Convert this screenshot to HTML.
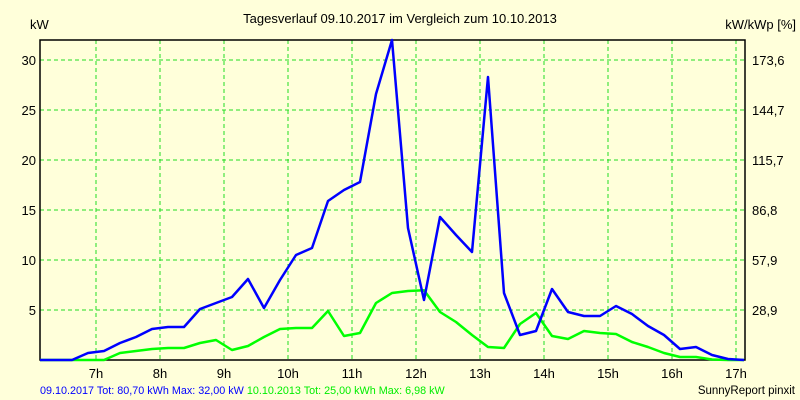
<!DOCTYPE html>
<html><head><meta charset="utf-8"><style>
body{margin:0;background:#FFFFDA;}
svg{display:block;font-family:"Liberation Sans",sans-serif;}
</style></head><body>
<svg id="chart" width="800" height="400">
<rect x="0" y="0" width="800" height="400" fill="#FFFFDA"/>
<text x="400" y="23" font-size="13" text-anchor="middle" fill="#000">Tagesverlauf 09.10.2017 im Vergleich zum 10.10.2013</text>
<text x="30" y="29" font-size="13" fill="#000">kW</text>
<text x="796" y="29" font-size="13" text-anchor="end" fill="#000">kW/kWp [%]</text>
<g id="grid"></g>
<g id="axes"></g>
<g id="series"></g>
<text x="40" y="394" font-size="10.8"><tspan fill="#0000ff">09.10.2017 Tot: 80,70 kWh Max: 32,00 kW</tspan><tspan fill="#00ee00"> 10.10.2013 Tot: 25,00 kWh Max: 6,98 kW</tspan></text>
<text x="795" y="394" font-size="11.5" text-anchor="end" fill="#000">SunnyReport pinxit</text>
</svg>
<script>
const yTicks=[5,10,15,20,25,30];
const yTickLabels=["5","10","15","20","25","30"];
const rightTickLabels=["28,9","57,9","86,8","115,7","144,7","173,6"];
const hours=[7,8,9,10,11,12,13,14,15,16,17];
const hourLabels=["7h","8h","9h","10h","11h","12h","13h","14h","15h","16h","17h"];
const startTime=6.125; const stepHours=0.25;
const blue2017=[0,0,0,0.7,0.9,1.7,2.3,3.1,3.3,3.3,5.1,5.7,6.3,8.1,5.2,8.0,10.5,11.2,15.9,17.0,17.8,26.6,32,13.2,6.0,14.3,12.5,10.8,28.3,6.7,2.5,2.9,7.1,4.8,4.4,4.4,5.4,4.6,3.4,2.5,1.1,1.3,0.5,0.1,0];
const green2013=[0,0,0,0,0,0.7,0.9,1.1,1.2,1.2,1.7,2.0,1.0,1.4,2.3,3.1,3.2,3.2,4.9,2.4,2.7,5.7,6.7,6.9,6.98,4.8,3.8,2.5,1.3,1.2,3.6,4.7,2.4,2.1,2.9,2.7,2.6,1.8,1.3,0.7,0.3,0.3,0.05,0,0];
const X0=40,X1=745,Y0=360,YT=40;
function xs(t){return 96+(t-7)*64;}
function ys(v){return Y0-v*10;}
const NS="http://www.w3.org/2000/svg";
function mk(tag,attrs,parent){const e=document.createElementNS(NS,tag);for(const k in attrs)e.setAttribute(k,attrs[k]);parent.appendChild(e);return e;}
const grid=document.getElementById('grid'),axes=document.getElementById('axes'),series=document.getElementById('series');
yTicks.forEach((v,i)=>{
 const l=mk('line',{x1:X0,x2:X1,y1:ys(v),y2:ys(v),stroke:'#22dd22','stroke-dasharray':'4,3','stroke-width':1},grid);
 
 
 const t=mk('text',{x:36,y:ys(v)+5,'font-size':13,'text-anchor':'end',fill:'#000'},axes);t.textContent=yTickLabels[i];
 
 
 const r=mk('text',{x:752,y:ys(v)+5,'font-size':13,fill:'#000'},axes);r.textContent=rightTickLabels[i];
 
 
});
hours.forEach((h,i)=>{
 const l=mk('line',{x1:xs(h),x2:xs(h),y1:YT,y2:Y0,stroke:'#22dd22','stroke-dasharray':'4,3','stroke-width':1},grid);
 
 
 const t=mk('text',{x:xs(h),y:378,'font-size':13,'text-anchor':'middle',fill:'#000'},axes);t.textContent=hourLabels[i];
 
 
});
const frame=mk('path',{d:`M${X0},${YT}H${X1}V${Y0}H${X0}Z`,fill:'none',stroke:'#000','stroke-width':1.5},axes);


function pts(arr){return arr.map((v,i)=>xs(startTime+i*stepHours).toFixed(1)+','+ys(v).toFixed(1)).join(' ');}
const g=mk('polyline',{points:pts(green2013),fill:'none',stroke:'#00ff00','stroke-width':2.5,'stroke-linejoin':'round'},series);


const b=mk('polyline',{points:pts(blue2017),fill:'none',stroke:'#0000ff','stroke-width':2.5,'stroke-linejoin':'round'},series);


</script>
</body></html>
